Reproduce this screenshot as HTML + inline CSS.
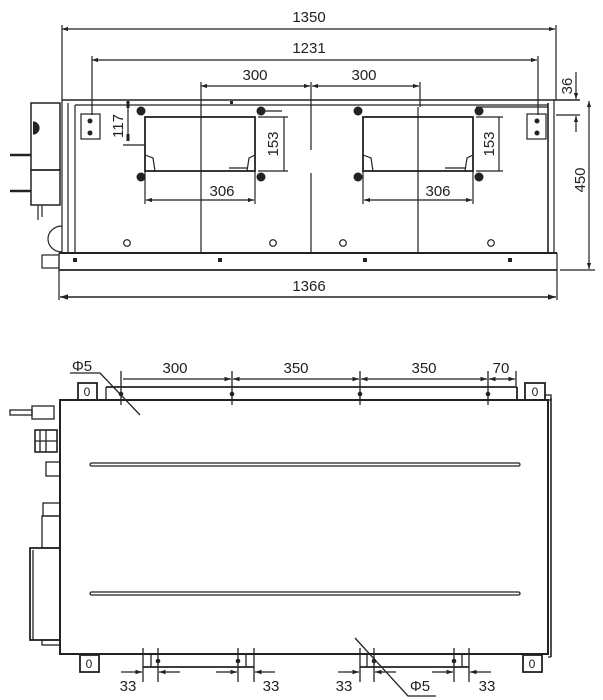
<!DOCTYPE html>
<html><head><meta charset="utf-8"><style>
html,body{margin:0;padding:0;background:#fff}
svg{display:block}
text{font-family:"Liberation Sans",sans-serif;font-size:15px;fill:#222}
</style></head><body>
<svg width="603" height="700" viewBox="0 0 603 700" xmlns="http://www.w3.org/2000/svg">
<defs>
<marker id="a" viewBox="0 0 10 10" refX="10" refY="5" markerWidth="7" markerHeight="5" orient="auto-start-reverse"><path d="M0,1.5 L10,5 L0,8.5 z" fill="#222"/></marker>
</defs>
<g stroke="#222" fill="none" stroke-width="1.2">
<line x1="62" y1="29" x2="555" y2="29" marker-start="url(#a)" marker-end="url(#a)"/>
<line x1="62" y1="25" x2="62" y2="100"/>
<line x1="556" y1="25" x2="556" y2="100"/>
<line x1="92" y1="60" x2="537" y2="60" marker-start="url(#a)" marker-end="url(#a)"/>
<line x1="92" y1="56" x2="92" y2="115"/>
<line x1="538" y1="56" x2="538" y2="115"/>
<line x1="201" y1="86" x2="310" y2="86" marker-start="url(#a)" marker-end="url(#a)"/>
<line x1="312" y1="86" x2="419" y2="86" marker-start="url(#a)" marker-end="url(#a)"/>
<line x1="201" y1="82" x2="201" y2="253"/>
<line x1="311" y1="82" x2="311" y2="150"/>
<line x1="311" y1="173" x2="311" y2="253"/>
<line x1="420" y1="82" x2="420" y2="107"/>
<line x1="418" y1="107" x2="418" y2="253"/>
<line x1="62" y1="100" x2="580" y2="100" stroke-width="1.6"/>
<line x1="75" y1="105" x2="548" y2="105"/>
<line x1="62" y1="100" x2="62" y2="253"/>
<line x1="68" y1="103" x2="68" y2="253"/>
<line x1="75" y1="105" x2="75" y2="253"/>
<line x1="548" y1="103" x2="548" y2="253" stroke-width="1.6"/>
<line x1="554" y1="100" x2="554" y2="253"/>
<line x1="59" y1="253" x2="557" y2="253" stroke-width="2"/>
<line x1="59" y1="253" x2="59" y2="300"/>
<line x1="557" y1="253" x2="557" y2="300"/>
<line x1="59" y1="270" x2="557" y2="270" stroke-width="1.8"/>
<rect x="42" y="255" width="17" height="13"/>
<rect x="145" y="117" width="110" height="54" stroke-width="1.8"/>
<rect x="363" y="117" width="110" height="54" stroke-width="1.8"/>
<path d="M145,155 L153,158 L155,171 M255,155 L249,158 L247,171 M229,168 L247,168"/>
<path d="M363,155 L371,158 L373,171 M473,155 L467,158 L465,171 M445,168 L465,168"/>
<line x1="262" y1="111" x2="282" y2="111"/>
<line x1="476" y1="107" x2="548" y2="107"/>
<line x1="128" y1="101" x2="128" y2="141"/>
<line x1="128" y1="101" x2="128" y2="108" stroke-width="3"/>
<line x1="128" y1="134" x2="128" y2="141" stroke-width="3"/>
<line x1="123" y1="145" x2="145" y2="145"/>
<line x1="258" y1="117" x2="288" y2="117"/><line x1="258" y1="171" x2="288" y2="171"/>
<line x1="284" y1="117" x2="284" y2="171"/>
<line x1="476" y1="117" x2="503" y2="117"/><line x1="476" y1="171" x2="503" y2="171"/>
<line x1="499" y1="117" x2="499" y2="171"/>
<line x1="145" y1="171" x2="145" y2="204"/><line x1="255" y1="171" x2="255" y2="204"/>
<line x1="146" y1="200" x2="254" y2="200" marker-start="url(#a)" marker-end="url(#a)"/>
<line x1="363" y1="171" x2="363" y2="204"/><line x1="473" y1="171" x2="473" y2="204"/>
<line x1="364" y1="200" x2="472" y2="200" marker-start="url(#a)" marker-end="url(#a)"/>
<rect x="81" y="114" width="19" height="25"/>
<rect x="527" y="114" width="19" height="25"/>
<circle cx="127" cy="243" r="3.3"/><circle cx="273" cy="243" r="3.3"/>
<circle cx="343" cy="243" r="3.3"/><circle cx="491" cy="243" r="3.3"/>
<line x1="60" y1="297" x2="556" y2="297" marker-start="url(#a)" marker-end="url(#a)" stroke-width="1.6"/>
<line x1="589" y1="101" x2="589" y2="269" marker-start="url(#a)" marker-end="url(#a)"/>
<line x1="560" y1="270" x2="595" y2="270"/>
<line x1="556" y1="115" x2="580" y2="115"/>
<line x1="576" y1="72" x2="576" y2="99" marker-end="url(#a)"/>
<line x1="576" y1="132" x2="576" y2="116" marker-end="url(#a)"/>
<rect x="31" y="103" width="29" height="67" stroke-width="1.5"/>
<rect x="31" y="170" width="29" height="35" stroke-width="1.5"/>
<path d="M33,122 a6,6 0 0 1 0,12" fill="#222"/>
<line x1="10" y1="155" x2="31" y2="155" stroke-width="2.5"/>
<line x1="10" y1="191" x2="31" y2="191" stroke-width="2.5"/>
<path d="M38,205 v15 M42,205 v12"/>
<path d="M62,226 a14,13 0 0 0 0,26"/>
</g>
<g fill="#222">
<circle cx="141" cy="111" r="4.5"/><circle cx="261" cy="111" r="4.5"/>
<circle cx="141" cy="177" r="4.5"/><circle cx="261" cy="177" r="4.5"/>
<circle cx="358" cy="111" r="4.5"/><circle cx="479" cy="111" r="4.5"/>
<circle cx="358" cy="177" r="4.5"/><circle cx="479" cy="177" r="4.5"/>
<circle cx="90" cy="121" r="2.5"/><circle cx="90" cy="133" r="2.5"/>
<circle cx="537" cy="121" r="2.5"/><circle cx="537" cy="133" r="2.5"/>
<rect x="73" y="258" width="4" height="4"/><rect x="218" y="258" width="4" height="4"/>
<rect x="363" y="258" width="4" height="4"/><rect x="508" y="258" width="4" height="4"/>
<rect x="230" y="101" width="3" height="3"/>
</g>
<text x="309" y="22" text-anchor="middle">1350</text>
<text x="309" y="53" text-anchor="middle">1231</text>
<text x="255" y="80" text-anchor="middle">300</text>
<text x="364" y="80" text-anchor="middle">300</text>
<text x="222" y="196" text-anchor="middle">306</text>
<text x="438" y="196" text-anchor="middle">306</text>
<text x="309" y="291" text-anchor="middle">1366</text>
<text transform="translate(123,126) rotate(-90)" text-anchor="middle">117</text>
<text transform="translate(278,144) rotate(-90)" text-anchor="middle">153</text>
<text transform="translate(494,144) rotate(-90)" text-anchor="middle">153</text>
<text transform="translate(585,180) rotate(-90)" text-anchor="middle">450</text>
<text transform="translate(572,86) rotate(-90)" text-anchor="middle">36</text>

<g stroke="#222" fill="none" stroke-width="1.3">
<rect x="60" y="400" width="488" height="254" stroke-width="2"/>
<line x1="551" y1="398" x2="551" y2="657" stroke-width="1.6"/>
<line x1="548" y1="657" x2="551" y2="657"/>
<line x1="106" y1="387" x2="517" y2="387" stroke-width="1.8"/>
<line x1="106" y1="387" x2="106" y2="400"/>
<line x1="517" y1="387" x2="517" y2="400" stroke-width="1.8"/>
<rect x="78" y="383" width="19" height="17" stroke-width="1.8"/>
<rect x="525" y="383" width="20" height="17" stroke-width="1.8"/>
<rect x="545" y="395" width="6" height="5"/>
<rect x="80" y="655" width="19" height="17" stroke-width="1.8"/>
<rect x="523" y="655" width="19" height="17" stroke-width="1.8"/>
<line x1="121" y1="371" x2="121" y2="405"/>
<line x1="232" y1="371" x2="232" y2="405"/>
<line x1="360" y1="371" x2="360" y2="405"/>
<line x1="488" y1="371" x2="488" y2="405"/>
<line x1="516" y1="371" x2="516" y2="386"/>
<line x1="123" y1="379" x2="231" y2="379" marker-end="url(#a)"/>
<line x1="233" y1="379" x2="359" y2="379" marker-start="url(#a)" marker-end="url(#a)"/>
<line x1="361" y1="379" x2="487" y2="379" marker-start="url(#a)" marker-end="url(#a)"/>
<line x1="489" y1="379" x2="515" y2="379" marker-start="url(#a)" marker-end="url(#a)"/>
<path d="M70,373 L100,373 L140,415"/>
<rect x="90" y="463" width="430" height="3" rx="1.5"/>
<rect x="90" y="592" width="430" height="3" rx="1.5"/>
<rect x="10" y="410" width="22" height="5"/>
<rect x="32" y="406" width="22" height="13"/>
<rect x="35" y="430" width="22" height="22" stroke-width="1.6"/>
<path d="M40,430 v22 M46,430 v22 M35,441 h22"/>
<rect x="46" y="462" width="14" height="14"/>
<rect x="43" y="503" width="17" height="13"/>
<rect x="42" y="516" width="18" height="32"/>
<rect x="30" y="548" width="30" height="92" stroke-width="1.8"/>
<line x1="33" y1="550" x2="33" y2="640"/>
<rect x="42" y="640" width="18" height="5"/>
<line x1="143" y1="667" x2="254" y2="667" stroke-width="1.8"/>
<line x1="360" y1="667" x2="469" y2="667" stroke-width="1.8"/>
<path d="M151,654 v13 M246,654 v13 M367,654 v13 M462,654 v13"/>
<path d="M143,648 v34 M158,648 v34 M238,648 v34 M254,648 v34"/>
<path d="M360,648 v34 M374,648 v34 M454,648 v34 M469,648 v34"/>
<line x1="121" y1="672" x2="142" y2="672" marker-end="url(#a)"/>
<line x1="180" y1="672" x2="159" y2="672" marker-end="url(#a)"/>
<line x1="216" y1="672" x2="237" y2="672" marker-end="url(#a)"/>
<line x1="275" y1="672" x2="255" y2="672" marker-end="url(#a)"/>
<line x1="338" y1="672" x2="359" y2="672" marker-end="url(#a)"/>
<line x1="396" y1="672" x2="375" y2="672" marker-end="url(#a)"/>
<line x1="432" y1="672" x2="453" y2="672" marker-end="url(#a)"/>
<line x1="491" y1="672" x2="470" y2="672" marker-end="url(#a)"/>
<path d="M355,638 L408,696 L436,696"/>
</g>
<g fill="#222">
<circle cx="121" cy="394" r="2.3"/><circle cx="232" cy="394" r="2.3"/>
<circle cx="360" cy="394" r="2.3"/><circle cx="488" cy="394" r="2.3"/>
<circle cx="158" cy="661" r="2.3"/><circle cx="238" cy="661" r="2.3"/>
<circle cx="374" cy="661" r="2.3"/><circle cx="454" cy="661" r="2.3"/>
</g>
<text x="82" y="371" text-anchor="middle">Φ5</text>
<text x="175" y="373" text-anchor="middle">300</text>
<text x="296" y="373" text-anchor="middle">350</text>
<text x="424" y="373" text-anchor="middle">350</text>
<text x="501" y="373" text-anchor="middle">70</text>
<text x="87" y="396" text-anchor="middle" style="font-size:12px">0</text>
<text x="535" y="396" text-anchor="middle" style="font-size:12px">0</text>
<text x="89" y="668" text-anchor="middle" style="font-size:12px">0</text>
<text x="532" y="668" text-anchor="middle" style="font-size:12px">0</text>
<text x="128" y="691" text-anchor="middle">33</text>
<text x="271" y="691" text-anchor="middle">33</text>
<text x="344" y="691" text-anchor="middle">33</text>
<text x="487" y="691" text-anchor="middle">33</text>
<text x="420" y="691" text-anchor="middle">Φ5</text>
</svg>
</body></html>
